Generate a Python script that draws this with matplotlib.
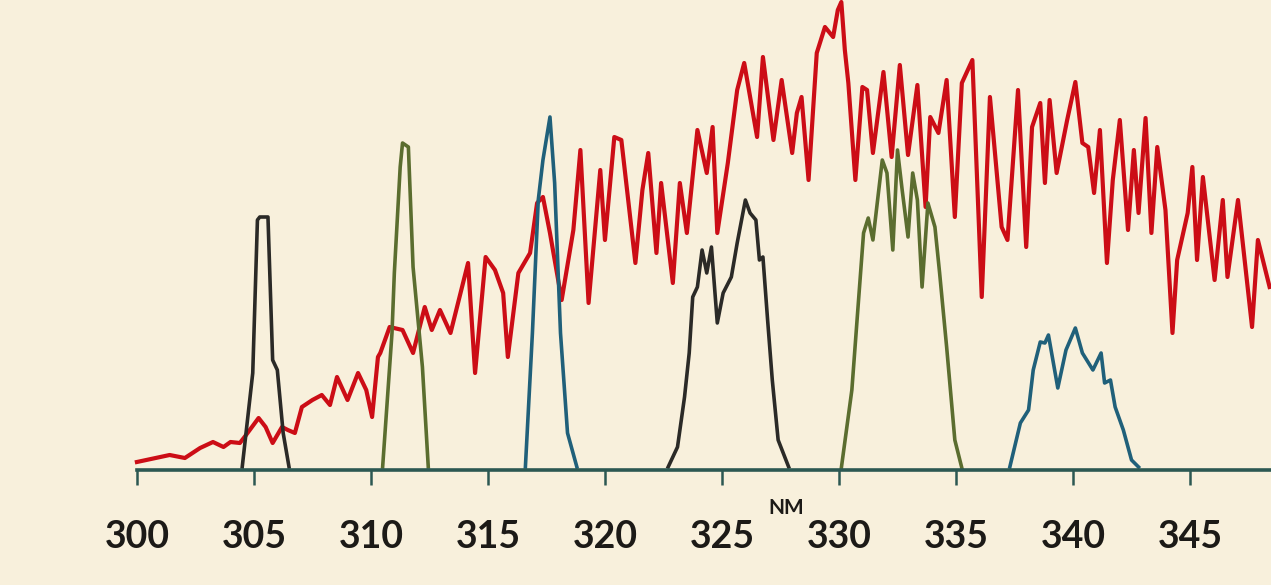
import matplotlib.pyplot as plt

# solar spectrum (red), relative units
spectrum_nm = [300.0, 301.4, 302.05, 302.7, 303.25, 303.7, 304.0, 304.4, 304.6, 305.2,
               305.5, 305.8, 306.2, 306.45, 306.75, 307.05, 307.5, 307.9, 308.25, 308.55,
               309.0, 309.45, 309.8, 310.05, 310.3, 310.4, 310.8, 311.35, 311.8, 312.3,
               312.6, 312.95, 313.4, 314.15, 314.45, 314.9, 315.3, 315.65, 315.85, 316.3,
               316.8, 317.1, 317.35, 317.65, 318.15, 318.65, 318.95, 319.3, 319.8, 320.0,
               320.4, 320.7, 321.3, 321.6, 321.85, 322.2, 322.4, 322.9, 323.2, 323.5,
               323.95, 324.35, 324.6, 324.8, 325.25, 325.65, 325.95, 326.5, 326.75, 327.2,
               327.55, 328.0, 328.2, 328.4, 328.7, 329.05, 329.4, 329.75, 329.95, 330.1,
               330.25, 330.4, 330.7, 331.0, 331.2, 331.45, 331.9, 332.25, 332.6, 332.95,
               333.35, 333.7, 333.9, 334.25, 334.6, 334.95, 335.25, 335.7, 336.1, 336.45,
               336.95, 337.2, 337.65, 338.0, 338.25, 338.6, 338.8, 339.0, 339.3, 339.75,
               340.1, 340.4, 340.65, 340.9, 341.15, 341.45, 341.7, 342.0, 342.35, 342.6,
               342.8, 343.1, 343.35, 343.6, 343.95, 344.25, 344.45, 344.9, 345.1, 345.3,
               345.55, 346.05, 346.4, 346.6, 347.05, 347.65, 347.9, 348.4]
spectrum_val = [8, 15, 12, 22, 28, 23, 28, 27, 33, 52,
                43, 27, 43, 40, 37, 63, 70, 75, 65, 93,
                70, 97, 80, 53, 113, 117, 143, 140, 117, 163,
                140, 160, 137, 207, 97, 213, 200, 177, 113, 197,
                217, 267, 273, 237, 170, 240, 320, 167, 300, 230,
                333, 330, 207, 280, 317, 217, 287, 187, 287, 237,
                340, 297, 343, 237, 307, 380, 407, 333, 413, 330,
                390, 317, 357, 373, 290, 417, 443, 433, 460, 468,
                420, 387, 290, 383, 380, 317, 398, 313, 405, 315,
                385, 263, 353, 337, 390, 253, 387, 410, 173, 373,
                243, 230, 380, 223, 343, 367, 287, 370, 297, 350,
                388, 327, 323, 277, 340, 207, 290, 350, 240, 320,
                257, 352, 237, 323, 260, 137, 210, 257, 303, 210,
                293, 190, 270, 193, 270, 143, 230, 183]

# filter transmission curves
f1_nm = [304.5, 304.95, 305.15, 305.25, 305.6, 305.8, 306.0, 306.25, 306.5]
f1_val = [3, 97, 250, 253, 253, 110, 100, 37, 3]

f2_nm = [310.5, 310.9, 311.0, 311.25, 311.35, 311.6, 311.8, 312.2, 312.45]
f2_val = [3, 137, 197, 303, 327, 323, 203, 103, 3]

f3_nm = [316.6, 316.9, 317.15, 317.35, 317.65, 317.85, 318.1, 318.4, 318.8]
f3_val = [3, 137, 270, 310, 353, 287, 137, 37, 3]

f4_nm = [322.7, 323.1, 323.4, 323.6, 323.75, 323.95, 324.15, 324.35, 324.55, 324.8,
         325.05, 325.4, 325.65, 326.0, 326.2, 326.45, 326.6, 326.75, 326.95, 327.15,
         327.4, 327.85]
f4_val = [3, 23, 73, 117, 173, 183, 220, 197, 223, 147,
          177, 193, 227, 270, 257, 250, 210, 213, 150, 90,
          30, 3]

f5_nm = [330.1, 330.55, 330.75, 331.05, 331.25, 331.45, 331.85, 332.05, 332.3, 332.5,
         332.7, 332.95, 333.15, 333.35, 333.55, 333.8, 334.1, 334.3, 334.6, 334.95,
         335.25]
f5_val = [2, 80, 143, 237, 252, 230, 310, 297, 220, 320,
          280, 233, 297, 270, 183, 267, 243, 197, 123, 30,
          2]

f6_nm = [337.3, 337.75, 338.1, 338.3, 338.6, 338.8, 338.95, 339.35, 339.7, 340.1,
         340.4, 340.85, 341.2, 341.35, 341.6, 341.8, 342.15, 342.5, 342.8]
f6_val = [3, 47, 60, 100, 128, 127, 135, 82, 120, 142,
          117, 100, 117, 87, 90, 63, 40, 10, 3]

ticks = [300, 305, 310, 315, 320, 325, 330, 335, 340, 345]

bg = '#f8f0dc'
black = '#2b2a27'
green = '#5b6d2f'
blue = '#20607a'

fig = plt.figure(figsize=(12.71, 5.85), dpi=100, facecolor=bg)
ax = fig.add_axes([0, 0, 1, 1], facecolor=bg)

ax.plot(spectrum_nm, spectrum_val, color='#cc0d16', lw=3.0, solid_joinstyle='round')
for nm, val, col in [(f1_nm, f1_val, black), (f2_nm, f2_val, green), (f3_nm, f3_val, blue),
                     (f4_nm, f4_val, black), (f5_nm, f5_val, green), (f6_nm, f6_val, blue)]:
    ax.plot(nm, val, color=col, lw=2.6, solid_joinstyle='round')

ax.set_xlim(294.15, 348.46)
ax.set_ylim(-115, 470)

for s in ['top', 'left', 'right']:
    ax.spines[s].set_visible(False)
ax.spines['bottom'].set_position(('data', 0))
ax.spines['bottom'].set_bounds(300, 348.46)
ax.spines['bottom'].set_color('#2c5852')
ax.spines['bottom'].set_linewidth(2.6)

ax.set_yticks([])
ax.set_xticks(ticks)
ax.set_xticklabels([str(t) for t in ticks], fontsize=27, fontweight='bold',
                   family='Lato', color='#1c1a17')
ax.tick_params(axis='x', direction='out', length=11, width=1.8, color='#2c5852', pad=25)

ax.text(327.75, -38, 'NM', ha='center', va='center', fontsize=15, fontweight='bold',
        family='Lato', color='#1c1a17')

fig.savefig('out.png', dpi=100, facecolor=bg)
